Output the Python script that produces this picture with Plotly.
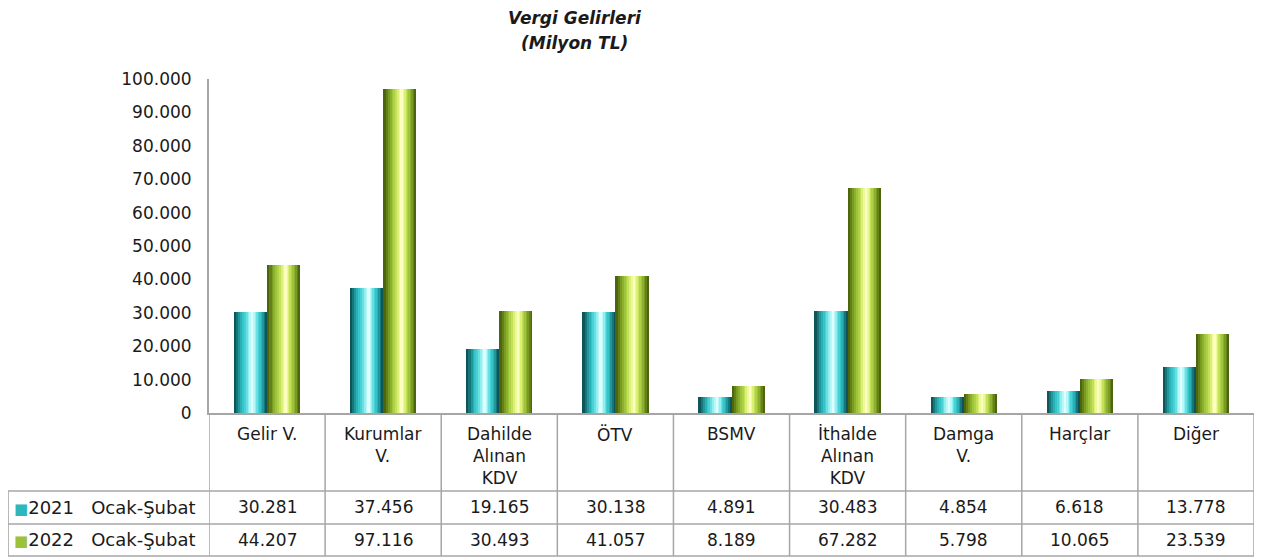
import plotly.graph_objects as go

categories = ["Gelir V.", "Kurumlar V.", "Dahilde Alınan KDV", "ÖTV", "BSMV",
              "İthalde Alınan KDV", "Damga V.", "Harçlar", "Diğer"]
category_labels = ["Gelir V.", "Kurumlar<br>V.", "Dahilde<br>Alınan<br>KDV", "ÖTV", "BSMV",
                   "İthalde<br>Alınan<br>KDV", "Damga<br>V.", "Harçlar", "Diğer"]
series_names = ["2021  Ocak-Şubat", "2022  Ocak-Şubat"]
values_2021 = [30281, 37456, 19165, 30138, 4891, 30483, 4854, 6618, 13778]
values_2022 = [44207, 97116, 30493, 41057, 8189, 67282, 5798, 10065, 23539]
value_labels_2021 = ["30.281", "37.456", "19.165", "30.138", "4.891", "30.483", "4.854", "6.618", "13.778"]
value_labels_2022 = ["44.207", "97.116", "30.493", "41.057", "8.189", "67.282", "5.798", "10.065", "23.539"]
y_ticks = [0, 10000, 20000, 30000, 40000, 50000, 60000, 70000, 80000, 90000, 100000]

FONT = "DejaVu Sans"
TXT = "#1a1a1a"
LINE = "#a6a6a6"


def hex2rgb(h):
    h = h.lstrip("#")
    return [int(h[i:i + 2], 16) for i in (0, 2, 4)]


def ramp(stops, t):
    n = len(stops) - 1
    pos = min(t * n, n - 1e-9)
    i = int(pos)
    f = pos - i
    c0, c1 = hex2rgb(stops[i]), hex2rgb(stops[i + 1])
    return "rgb(%d,%d,%d)" % tuple(round(c0[j] + (c1[j] - c0[j]) * f) for j in range(3))


teal_stops = ["#0d5558", "#1d9296", "#30bfc4", "#4fd6da", "#9af2f4", "#e0ffff"]
green_stops = ["#4d6510", "#76961f", "#98bf36", "#b5d64c", "#e0f27a", "#fbffc0"]

N_LAYERS = 10
PEAK = 0.56
W = 0.286  # bar width in category units

fig = go.Figure()
for s, (vals, stops, name) in enumerate([(values_2021, teal_stops, series_names[0]),
                                          (values_2022, green_stops, series_names[1])]):
    left = -W if s == 0 else 0.0
    for k in range(N_LAYERS):
        t = k / (N_LAYERS - 1)
        shrink = t ** 0.9 * 0.93
        a = PEAK * shrink
        b = 1 - (1 - PEAK) * shrink
        fig.add_trace(go.Bar(
            x=list(range(len(categories))), y=vals,
            width=W * (b - a), offset=left + W * a,
            marker=dict(color=ramp(stops, t), line=dict(width=0)),
            name=name, legendgroup=name, showlegend=False,
            hovertext=categories, hoverinfo="text+y",
        ))

shapes = []
ann = []
# table geometry (paper units relative to plot area)
y_row1 = -0.2335
y_row2 = -0.332
y_bot = -0.428
x_left = -0.1923
for k in range(len(categories) + 1):
    shapes.append(dict(type="line", xref="x", yref="paper", x0=k - 0.5, x1=k - 0.5,
                       y0=0, y1=y_bot, line=dict(color=LINE, width=1.5)))
for yy in (y_row1, y_row2, y_bot):
    shapes.append(dict(type="line", xref="paper", yref="paper", x0=x_left, x1=1.0,
                       y0=yy, y1=yy, line=dict(color=LINE, width=1.5)))
shapes.append(dict(type="line", xref="paper", yref="paper", x0=x_left, x1=x_left,
                   y0=y_row1, y1=y_bot, line=dict(color=LINE, width=1.5)))

for i, lab in enumerate(category_labels):
    ann.append(dict(x=i, y=-0.028, xref="x", yref="paper", text=lab, showarrow=False,
                    xanchor="center", yanchor="top", font=dict(family=FONT, size=17, color=TXT)))
    ann.append(dict(x=i, y=(y_row1 + y_row2) / 2, xref="x", yref="paper", text=value_labels_2021[i],
                    showarrow=False, xanchor="center", yanchor="middle",
                    font=dict(family=FONT, size=17, color=TXT)))
    ann.append(dict(x=i, y=(y_row2 + y_bot) / 2, xref="x", yref="paper", text=value_labels_2022[i],
                    showarrow=False, xanchor="center", yanchor="middle",
                    font=dict(family=FONT, size=17, color=TXT)))

for yy, col, name in [((y_row1 + y_row2) / 2, "#2db7bc", series_names[0]),
                      ((y_row2 + y_bot) / 2, "#9cc23a", series_names[1])]:
    ann.append(dict(x=x_left + 0.004, y=yy, xref="paper", yref="paper",
                    text=f'<span style="color:{col};font-size:15px">■</span>{name.replace("  ", "&nbsp;&nbsp; ")}',
                    showarrow=False, xanchor="left", yanchor="middle",
                    font=dict(family=FONT, size=18, color=TXT)))

ann.append(dict(x=0.3502, y=(413 - 18) / 334, xref="paper", yref="paper",
                text="<b><i>Vergi Gelirleri</i></b>",
                showarrow=False, xanchor="center", yanchor="middle",
                font=dict(family=FONT, size=17, color=TXT)))
ann.append(dict(x=0.3502, y=(413 - 43) / 334, xref="paper", yref="paper",
                text="<b><i>(Milyon TL)</i></b>",
                showarrow=False, xanchor="center", yanchor="middle",
                font=dict(family=FONT, size=17, color=TXT)))

# page body has an 8px margin: figure sized so the plot area lands at x 209-1254, y 79-413
fig.update_layout(
    width=1256, height=551,
    margin=dict(l=201, r=10, t=71, b=146),
    plot_bgcolor="white", paper_bgcolor="white",
    barmode="overlay", bargap=0,
    separators=",.",
    showlegend=False,
    shapes=shapes, annotations=ann,
    font=dict(family=FONT, size=17, color=TXT),
)
fig.update_xaxes(range=[-0.5, len(categories) - 0.5], showticklabels=False, ticks="",
                 showline=True, linecolor=LINE, linewidth=2, showgrid=False, zeroline=False,
                 fixedrange=True)
fig.update_yaxes(range=[0, 100000], tickvals=y_ticks, tickformat=",d", showgrid=False,
                 showline=True, linecolor=LINE, linewidth=2, zeroline=False, ticks="",
                 ticklabelstandoff=12, tickfont=dict(family=FONT, size=17, color=TXT),
                 fixedrange=True)

fig.write_html("out.html")
